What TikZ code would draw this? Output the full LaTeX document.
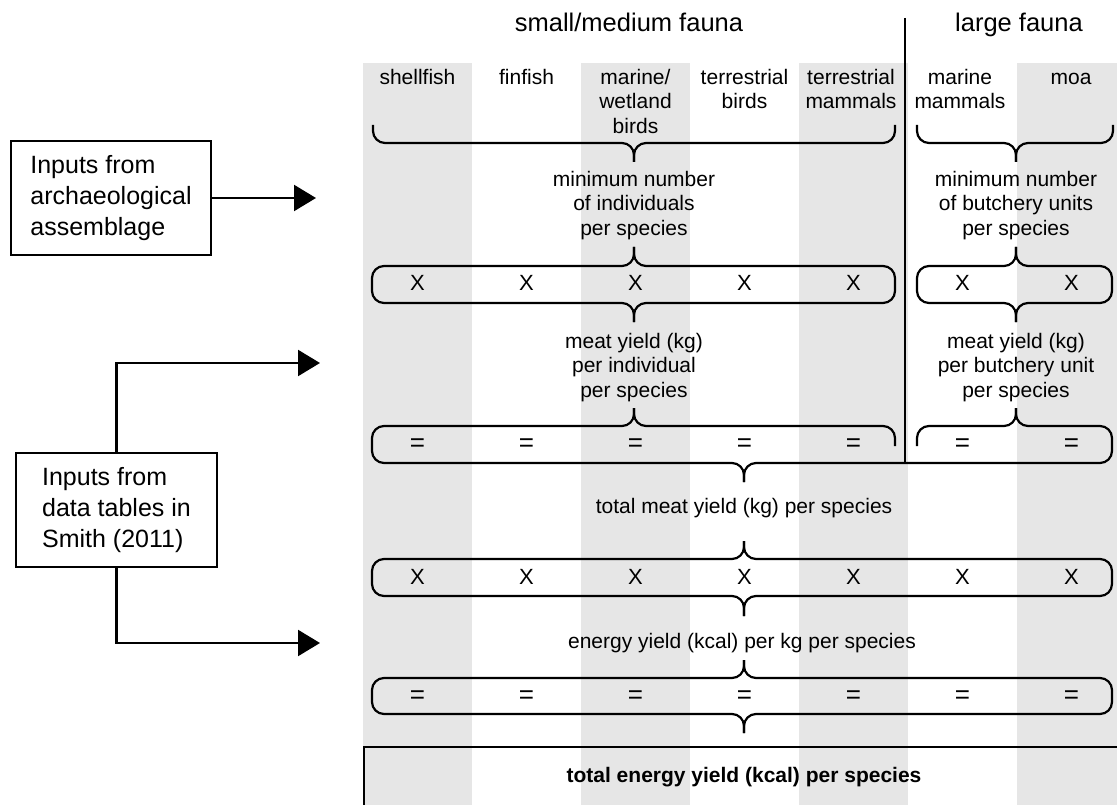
\documentclass[tikz,border=0pt]{standalone}
\usepackage{fontspec}
\setmainfont{Liberation Sans}
\usetikzlibrary{arrows.meta}
\definecolor{stripe}{RGB}{230,230,230}
\begin{document}
\begin{tikzpicture}[x=1pt,y=-1pt, line width=2.2pt,
  lbl/.style={inner sep=0pt, font=\fontsize{21}{24.5}\selectfont, align=center},
  hdr/.style={inner sep=0pt, font=\fontsize{25.5}{30}\selectfont},
  xsym/.style={inner sep=0pt, font=\fontsize{22}{24}\selectfont},
  esym/.style={inner sep=0pt, font=\fontsize{26}{28}\selectfont},
  inbox/.style={draw, line width=2.2pt, inner sep=0pt, minimum width=200pt, minimum height=114pt, align=left, font=\fontsize{25}{31}\selectfont},
  brc/.style={draw, line width=2.2pt, rounded corners=12pt},
  arr/.style={draw, line width=2.2pt, -{Triangle[length=22pt,width=26pt]}}]
\useasboundingbox (0,0) rectangle (1117,805);
\clip (0,0) rectangle (1117,805);
% stripes
\foreach \x in {363,581,799} \fill[stripe] (\x,63) rectangle ++(109,742);
\fill[stripe] (1017,63) rectangle (1117,805);
% headers
\node[hdr, anchor=base] (hsm) at (629,32) {small/medium fauna};
\node[hdr, anchor=base] (hlg) at (1019,32) {large fauna};
\draw[line width=2.4pt] (905,18) -- (905,463);
% column labels
\node[lbl, anchor=north] (c1) at (417.5,68) {\vphantom{h}shellfish};
\node[lbl, anchor=north] (c2) at (526.5,68) {\vphantom{h}finfish};
\node[lbl, anchor=north] (c3) at (635.5,68) {\vphantom{h}marine/\\wetland\\birds};
\node[lbl, anchor=north] (c4) at (744.5,68) {\vphantom{h}terrestrial\\birds};
\node[lbl, anchor=north] (c5) at (851,68) {\vphantom{h}terrestrial\\mammals};
\node[lbl, anchor=north] (c6) at (960,68) {\vphantom{h}marine\\mammals};
\node[lbl, anchor=north] (c7) at (1071,68) {\vphantom{h}moa};
% top braces
\draw[brc] (373,125) -- (373,143) -- (634,143) -- (634,162);
\draw[brc] (895,125) -- (895,143) -- (634,143) -- (634,162);
\draw[brc] (917,125) -- (917,143) -- (1016,143) -- (1016,162);
\draw[brc] (1113,125) -- (1113,143) -- (1016,143) -- (1016,162);
\node[lbl, anchor=north] (mn1) at (634,170) {\vphantom{h}minimum number\\of individuals\\per species};
\node[lbl, anchor=north] (mn2) at (1016,170) {\vphantom{h}minimum number\\of butchery units\\per species};
% X row (split)
\draw[brc] (634,247) -- (634,266) -- (372,266) -- (372,303) -- (634,303) -- (634,322);
\draw[brc] (634,247) -- (634,266) -- (895,266) -- (895,303) -- (634,303) -- (634,322);
\draw[brc] (1016,247) -- (1016,266) -- (917,266) -- (917,303) -- (1016,303) -- (1016,322);
\draw[brc] (1016,247) -- (1016,266) -- (1112,266) -- (1112,303) -- (1016,303) -- (1016,322);
\foreach \x [count=\i] in {417.5,526.5,635.5,744.5,853.5,962.5,1071.5}
  \node[xsym] (xa\i) at (\x,283) {X};
\node[lbl, anchor=north] (my1) at (634,332) {\vphantom{h}meat yield (kg)\\per individual\\per species};
\node[lbl, anchor=north] (my2) at (1016,332) {\vphantom{h}meat yield (kg)\\per butchery unit\\per species};
% = row (split top, joined bottom)
\draw[brc] (634,408) -- (634,426) -- (372,426) -- (372,463) -- (744,463) -- (744,482);
\draw[brc] (634,408) -- (634,426) -- (895,426) -- (895,446);
\draw[brc] (1016,408) -- (1016,426) -- (917,426) -- (917,446);
\draw[brc] (1016,408) -- (1016,426) -- (1112,426) -- (1112,463) -- (744,463) -- (744,482);
\foreach \x [count=\i] in {417.5,526.5,635.5,744.5,853.5,962.5,1071.5}
  \node[esym] (ea\i) at (\x,445) {=};
\node[lbl, anchor=base] (tm) at (744,513.5) {total meat yield (kg) per species};
% X row (full)
\draw[brc] (744,541) -- (744,559) -- (372,559) -- (372,596) -- (744,596) -- (744,616);
\draw[brc] (744,541) -- (744,559) -- (1112,559) -- (1112,596) -- (744,596) -- (744,616);
\foreach \x [count=\i] in {417.5,526.5,635.5,744.5,853.5,962.5,1071.5}
  \node[xsym] (xb\i) at (\x,577) {X};
\node[lbl, anchor=base] (ey) at (742,648.5) {energy yield (kcal) per kg per species};
% = row (full)
\draw[brc] (744,660) -- (744,678) -- (372,678) -- (372,714) -- (744,714) -- (744,733);
\draw[brc] (744,660) -- (744,678) -- (1112,678) -- (1112,714) -- (744,714) -- (744,733);
\foreach \x [count=\i] in {417.5,526.5,635.5,744.5,853.5,962.5,1071.5}
  \node[esym] (eb\i) at (\x,697) {=};
% result box
\node[draw, line width=2.2pt, anchor=north west, inner sep=0pt, minimum width=770pt, minimum height=80pt] (tot) at (363,746) {};
\node[lbl, anchor=base, font=\fontsize{21}{24.5}\selectfont\bfseries] (tet) at (744,782) {total energy yield (kcal) per species};
% input boxes
\node[inbox] (b1) at (111,198) {Inputs from\\archaeological\\assemblage};
\node[inbox, minimum width=201pt] (b2) at (116.5,510) {Inputs from\\data tables in\\Smith (2011)};
\coordinate (t1) at (316,198);
\coordinate (t2) at (320,363);
\coordinate (t3) at (320,643);
\draw[arr] (b1.east) -- (t1);
\draw[arr] (b2.north) |- (t2);
\draw[arr] (b2.south) |- (t3);
\end{tikzpicture}
\end{document}
